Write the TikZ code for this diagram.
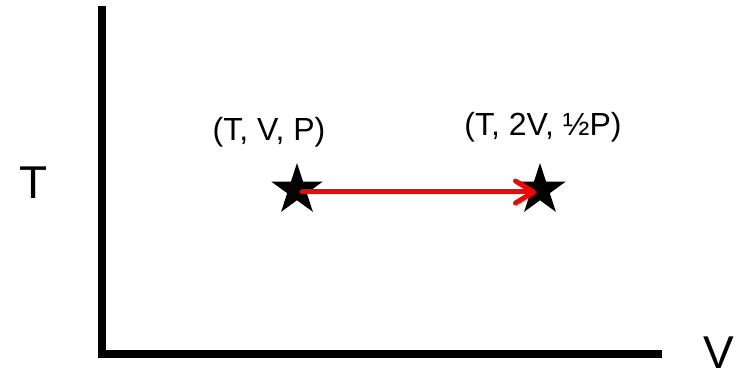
\documentclass[tikz,border=0pt]{standalone}
\usepackage{fontspec}
\setmainfont{Liberation Sans}
\usetikzlibrary{shapes.geometric,arrows.meta}
\begin{document}
\begin{tikzpicture}[x=1pt,y=-1pt,
  axis/.style={line width=8pt,draw=black},
  starnode/.style={star,star points=5,star point ratio=2.618,fill=black,draw=none,inner sep=0pt,minimum size=54pt},
  lbl/.style={inner sep=0pt,anchor=base,font=\fontsize{32}{38}\selectfont},
  axlbl/.style={inner sep=0pt,font=\fontsize{46}{55}\selectfont},
  move/.style={draw=red,line width=5pt,line cap=round,-{Straight Barb[length=18pt,width=22pt,round]}}]
\useasboundingbox (0,0) rectangle (736,371);
\coordinate (top) at (102,6);
\coordinate (corner) at (102,354);
\coordinate (right) at (662,354);
\draw[axis] (top) -- (corner.center) ++(-4,0) -- (right);
\node[axlbl,anchor=base] (tl) at (33.5,199) {T};
\node[axlbl,anchor=base west] (vl) at (703,368) {V};
\node[starnode] (s1) at (297,190) {};
\node[starnode] (s2) at (540,190) {};
\node[lbl] (l1) at (269,141) {(T, V, P)};
\node[lbl] (l2) at (543,136) {(T, 2V, ½P)};
\draw[move,shorten <=5pt,shorten >=4pt] ([yshift=-2pt]s1.center) -- ([yshift=-2pt]s2.center);
\end{tikzpicture}
\end{document}
